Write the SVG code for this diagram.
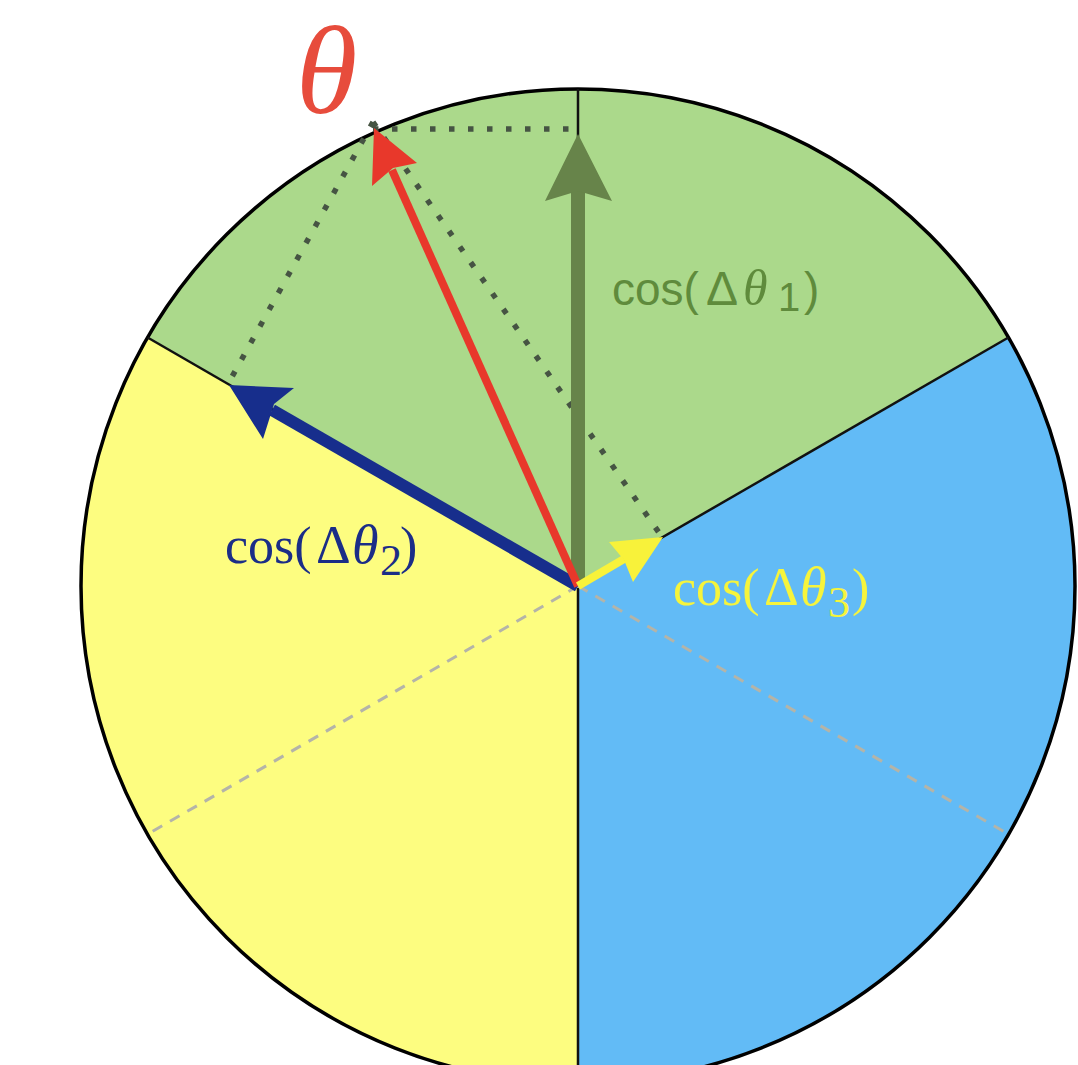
<svg xmlns="http://www.w3.org/2000/svg" width="1078" height="1065" viewBox="0 0 1078 1065">
<style>
.rim{fill:none;stroke:#000;stroke-width:3.5}
.edge{stroke:#111;stroke-width:2.5}
.dash{stroke:#b4b4a8;stroke-width:3;stroke-dasharray:11 9;fill:none}
.dot{stroke:#465443;stroke-width:5.5;stroke-dasharray:5.5 13.5;fill:none}
</style>
<rect width="1078" height="1065" fill="#fff"/>
<g id="sector-green"><path d="M578,586 L147.6,337.5 A497,497 0 0,1 1008.4,337.5 Z" fill="#abd98b"/></g>
<g id="sector-blue"><path d="M578,586 L1008.4,337.5 A497,497 0 0,1 578,1083 Z" fill="#62bbf6"/></g>
<g id="sector-yellow"><path d="M578,586 L578,1083 A497,497 0 0,1 147.6,337.5 Z" fill="#fdfd80"/></g>
<g id="rim"><circle cx="578" cy="586" r="497" class="rim"/></g>
<g id="connectors">
<line x1="578" y1="586" x2="147.6" y2="337.5" class="edge"/>
<line x1="578" y1="586" x2="1008.4" y2="337.5" class="edge"/>
<line x1="578" y1="586" x2="578" y2="1083" class="edge"/>
<line x1="578" y1="586" x2="578" y2="89" class="edge"/>
<line x1="578" y1="586" x2="148" y2="834" class="dash"/>
<line x1="578" y1="586" x2="1008" y2="834" class="dash"/>
<line x1="373" y1="129" x2="578" y2="129" class="dot"/>
<line x1="373" y1="122" x2="228" y2="384" class="dot"/>
<line x1="373" y1="122" x2="662" y2="537" class="dot"/>
<g id="arrow-green">
<line x1="578" y1="586" x2="578" y2="190" stroke="#67844a" stroke-width="14"/>
<polygon points="578,134 612,201 578,191 545,201" fill="#67844a"/>
</g>
<g id="arrow-blue">
<line x1="578" y1="586" x2="272" y2="410" stroke="#172e8c" stroke-width="12"/>
<polygon points="229,385 294,388 274,404 263,439" fill="#172e8c"/>
</g>
<g id="arrow-red">
<line x1="578" y1="586" x2="392" y2="170" stroke="#e8382b" stroke-width="8"/>
<polygon points="374,128 417,163 393,168 372,186" fill="#e8382b"/>
</g>
<g id="arrow-yellow">
<line x1="578" y1="586" x2="624" y2="559" stroke="#f8f23a" stroke-width="8"/>
<polygon points="663,537 633,582 624,560 609,542" fill="#f8f23a"/>
</g>
</g>
<g id="labels">
<text x="612" y="305" font-family="'Liberation Sans', Arial, sans-serif" font-size="46" fill="#5f8b3c">cos(<tspan x="706" font-size="48">Δ</tspan><tspan x="743" font-family="'Liberation Serif', 'Times New Roman', serif" font-style="italic" font-size="50">θ</tspan><tspan x="778" y="311" font-size="40">1</tspan><tspan x="804" y="305">)</tspan></text>
<text x="225" y="563" font-family="'Liberation Serif', 'Times New Roman', serif" font-size="52" fill="#1b2d87">cos(<tspan x="316" font-size="54">Δ</tspan><tspan x="352" font-style="italic" font-size="54">θ</tspan><tspan x="380" y="575" font-size="44">2</tspan><tspan x="400" y="563">)</tspan></text>
<text x="673" y="605" font-family="'Liberation Serif', 'Times New Roman', serif" font-size="52" fill="#f6f43c">cos(<tspan x="764" font-size="54">Δ</tspan><tspan x="800" font-style="italic" font-size="54">θ</tspan><tspan x="828" y="617" font-size="44">3</tspan><tspan x="852" y="605">)</tspan></text>
<text x="296" y="113" font-family="'Liberation Serif', 'Times New Roman', serif" font-style="italic" font-size="125" fill="#e74c3c">θ</text>
</g>
</svg>
